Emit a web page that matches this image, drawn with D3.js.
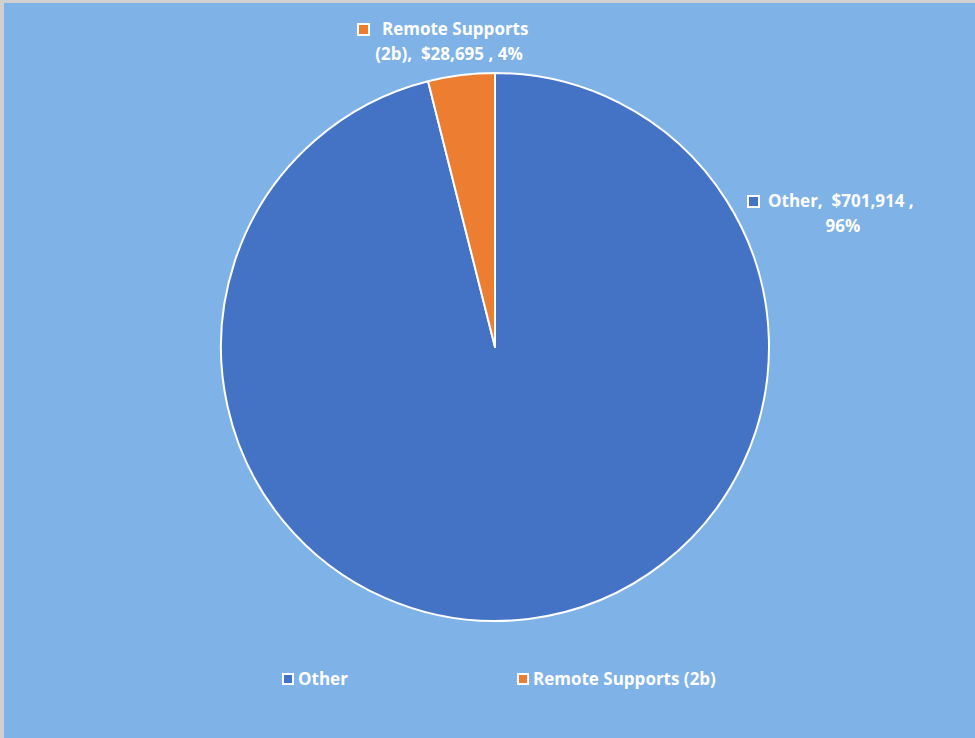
<!DOCTYPE html>
<html>
<head>
<meta charset="utf-8">
<script src="https://cdn.jsdelivr.net/npm/d3@7"></script>
<style>
  html, body { margin: 0; padding: 0; background: #d0d0d0; }
  svg { display: block; }
  text { font-family: "Open Sans", Lato, sans-serif; font-weight: bold; fill: #fff; white-space: pre; }
</style>
</head>
<body>
<svg id="chart" width="975" height="738"></svg>
<script>
// values
var categories = ['Other', 'Remote Supports (2b)'];
var amounts = [701914, 28695];
var percents = ['96%', '4%'];
var colors = ['#4472C4', '#ED7D31'];

var width = 975, height = 738;
var cx = 495, cy = 347, radius = 274;

var svg = d3.select('#chart');

// background, gray edge on top/left like the screenshot
svg.append('rect')
    .attr('x', 4).attr('y', 3)
    .attr('width', width - 4).attr('height', height - 3)
    .attr('fill', '#7FB2E6');

var data = categories.map(function(c, i) {
    return { name: c, value: amounts[i], pct: percents[i], color: colors[i] };
});

var pie = d3.pie().sort(null).value(function(d) { return d.value; });
var arc = d3.arc().innerRadius(0).outerRadius(radius);

var g = svg.append('g').attr('transform', 'translate(' + cx + ',' + cy + ')');

g.selectAll('path')
    .data(pie(data))
    .enter().append('path')
    .attr('d', arc)
    .attr('fill', function(d) { return d.data.color; })
    .attr('stroke', '#fff')
    .attr('stroke-width', 2)
    .attr('stroke-linejoin', 'round');

var fmt = d3.format('$,');
var fontSize = 17;

// data labels (placed like Excel's best fit)
var labelPos = [
    { boxX: 747, textX: 768, midX: 843, lines: [201, 226] },
    { boxX: 357, textX: 382, midX: 449, lines: [29, 54] }
];

function labelLines(d) {
    if (d.name === 'Other') {
        return [d.name + ',  ' + fmt(d.value) + ' ,', d.pct];
    }
    return ['Remote Supports', '(2b),  ' + fmt(d.value) + ' , ' + d.pct];
}

data.forEach(function(d, i) {
    var p = labelPos[i];
    var lines = labelLines(d);
    svg.append('text')
        .attr('x', p.textX).attr('y', p.lines[0] + 6)
        .attr('font-size', fontSize)
        .text(lines[0]);
    svg.append('text')
        .attr('x', p.midX).attr('y', p.lines[1] + 6)
        .attr('text-anchor', 'middle')
        .attr('font-size', fontSize)
        .text(lines[1]);
    svg.append('rect')
        .attr('x', p.boxX + 1).attr('y', p.lines[0] - 5)
        .attr('width', 11).attr('height', 11)
        .attr('fill', d.color)
        .attr('stroke', '#fff')
        .attr('stroke-width', 2);
});

// legend
var legendX = [283, 518];
var legendY = 679;
var legend = svg.selectAll('.legend')
    .data(data)
    .enter().append('g')
    .attr('class', 'legend')
    .attr('transform', function(d, i) { return 'translate(' + legendX[i] + ',' + legendY + ')'; });

legend.append('rect')
    .attr('x', 0).attr('y', -5)
    .attr('width', 10).attr('height', 10)
    .attr('fill', function(d) { return d.color; })
    .attr('stroke', '#fff')
    .attr('stroke-width', 2);

legend.append('text')
    .attr('x', 15).attr('y', 6)
    .attr('font-size', fontSize)
    .text(function(d) { return d.name; });
</script>
</body>
</html>
